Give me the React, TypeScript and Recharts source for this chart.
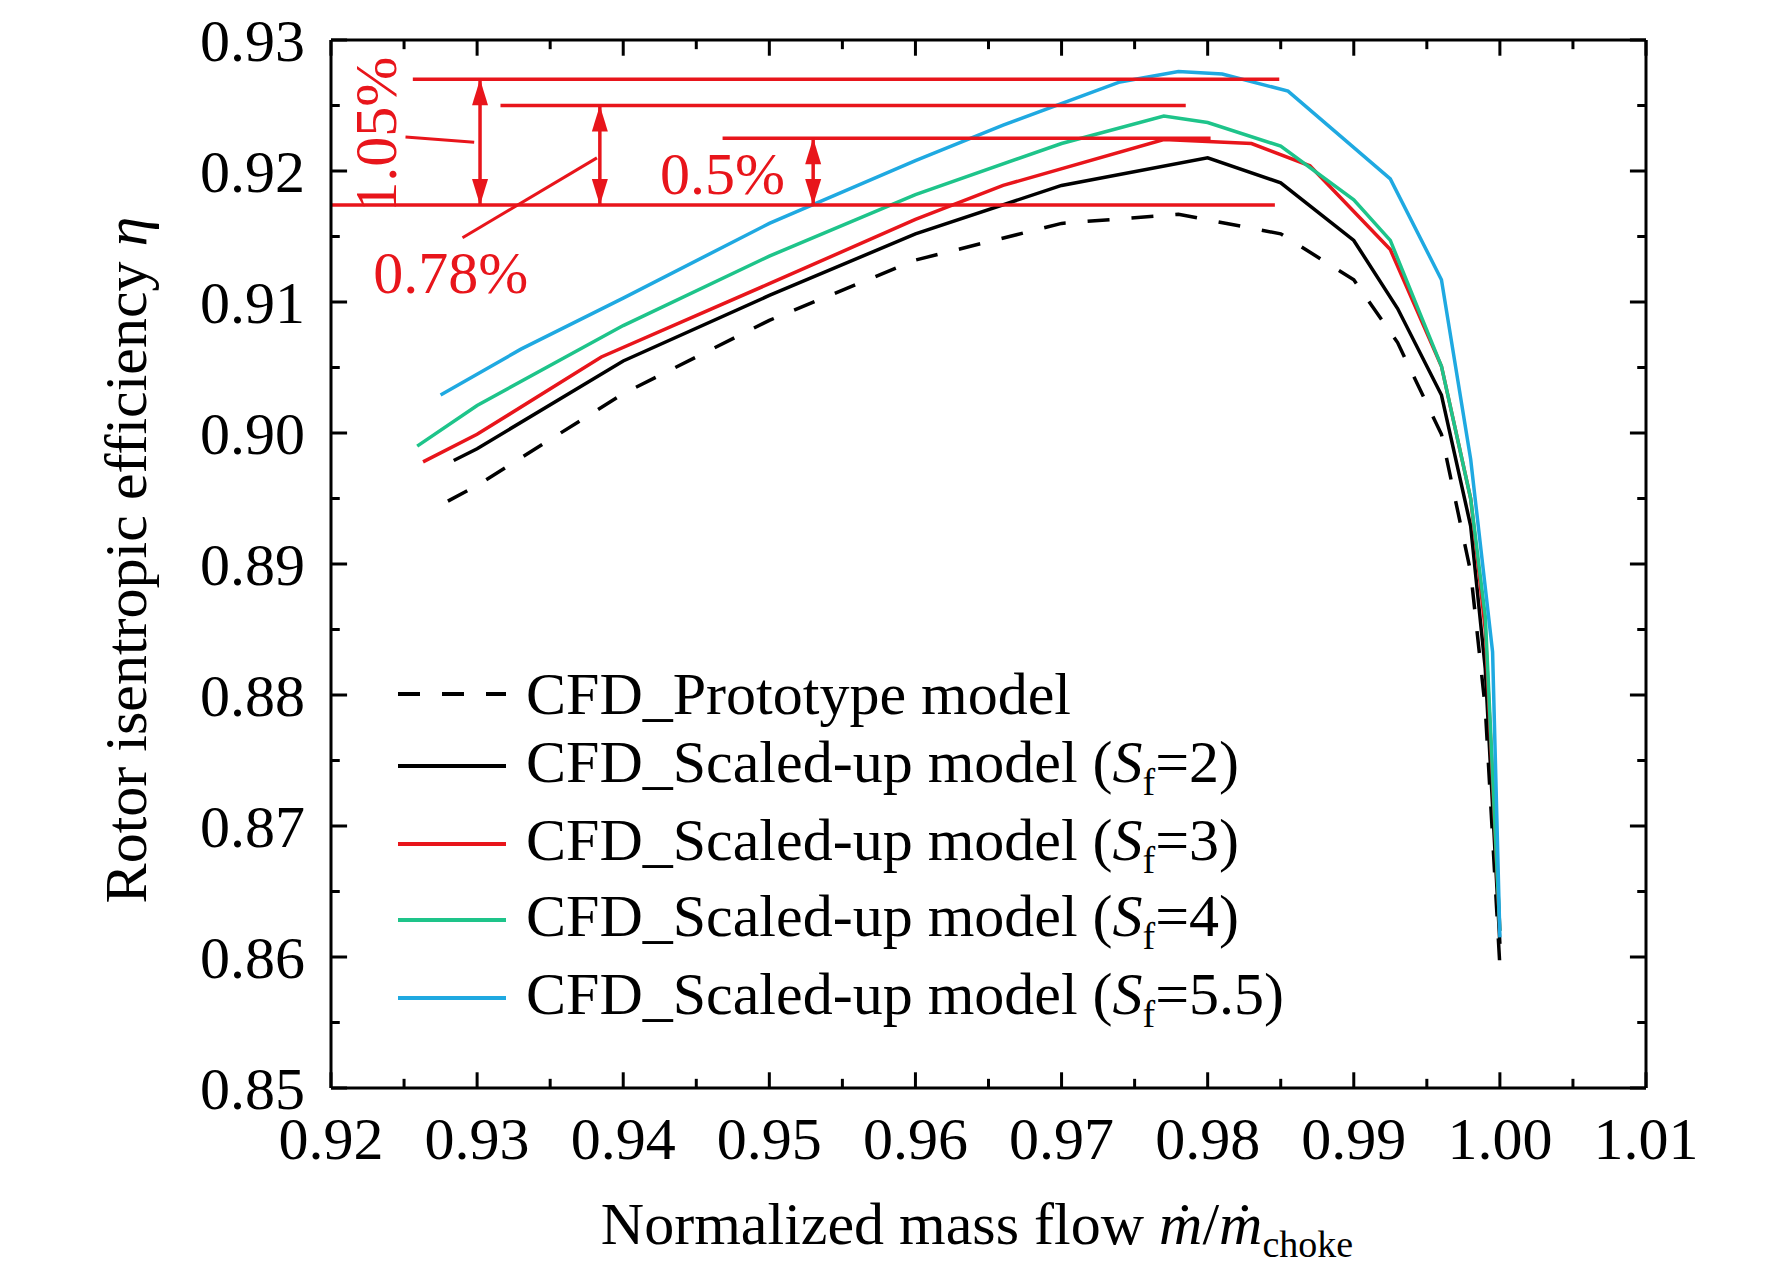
import React from 'react';
import { LineChart, Line, XAxis, YAxis, ReferenceLine, ReferenceDot } from 'recharts';

const protoX = [0.928, 0.93, 0.94, 0.95, 0.96, 0.97, 0.978, 0.985, 0.99, 0.993, 0.996, 0.998, 0.999, 1.0];
const protoY = [0.8948, 0.896, 0.903, 0.9086, 0.9132, 0.916, 0.9167, 0.9152, 0.9117, 0.9069, 0.8999, 0.8894, 0.879, 0.8593];
const sf2X = [0.9284, 0.93, 0.94, 0.95, 0.96, 0.97, 0.98, 0.985, 0.99, 0.993, 0.996, 0.998, 0.999, 1.0];
const sf2Y = [0.8979, 0.8988, 0.9055, 0.9105, 0.9152, 0.9189, 0.921, 0.9191, 0.9147, 0.9095, 0.9029, 0.8929, 0.882, 0.861];
const sf3X = [0.9263, 0.93, 0.9385, 0.95, 0.96, 0.966, 0.977, 0.983, 0.987, 0.9925, 0.996, 0.998, 0.999, 1.0];
const sf3Y = [0.8978, 0.8999, 0.9058, 0.9114, 0.9163, 0.9189, 0.9224, 0.9221, 0.9204, 0.914, 0.9051, 0.895, 0.885, 0.862];
const sf4X = [0.9259, 0.93, 0.94, 0.95, 0.96, 0.97, 0.977, 0.98, 0.985, 0.99, 0.9925, 0.996, 0.998, 0.999, 1.0];
const sf4Y = [0.899, 0.9021, 0.9082, 0.9135, 0.9182, 0.9221, 0.9242, 0.9237, 0.9219, 0.9178, 0.9147, 0.9051, 0.895, 0.886, 0.862];
const sf55X = [0.9275, 0.933, 0.94, 0.95, 0.96, 0.966, 0.974, 0.978, 0.981, 0.9855, 0.9925, 0.996, 0.998, 0.9995, 1.0];
const sf55Y = [0.9029, 0.9064, 0.9103, 0.916, 0.9208, 0.9235, 0.9268, 0.9276, 0.9274, 0.9261, 0.9194, 0.9117, 0.898, 0.8833, 0.8615];

const xMajor = [0.92, 0.93, 0.94, 0.95, 0.96, 0.97, 0.98, 0.99, 1.0, 1.01];
const xMinor = [0.925, 0.935, 0.945, 0.955, 0.965, 0.975, 0.985, 0.995, 1.005];
const yMajor = [0.85, 0.86, 0.87, 0.88, 0.89, 0.9, 0.91, 0.92, 0.93];
const yMinor = [0.855, 0.865, 0.875, 0.885, 0.895, 0.905, 0.915, 0.925];

// red guide lines: [y, x1, x2]
const guides = [
  [0.927, 0.9256, 0.9849],
  [0.925, 0.9316, 0.9785],
  [0.9225, 0.9468, 0.9802],
  [0.9174, 0.92, 0.9846],
];
// arrows: [x, yLow, yHigh]
const arrows = [
  [0.9302, 0.9174, 0.927],
  [0.9384, 0.9174, 0.925],
  [0.953, 0.9174, 0.9225],
];

const zip = (xs: number[], ys: number[]) => xs.map((x, i) => ({ x, y: ys[i] }));

const RED = '#e8151b';
const FONT = '"Liberation Serif", "Times New Roman", Times, serif';
const W = 1772;
const H = 1269;
const X0 = 0.92, X1 = 1.01, Y0 = 0.85, Y1 = 0.93;
// tick lengths in data units (major, minor)
const TX = 0.0011, TXm = 0.0006, TY = 0.0012, TYm = 0.0007;

const series = [
  { name: 'CFD_Prototype model', data: zip(protoX, protoY), color: '#000', dash: '22 22' },
  { name: 'CFD_Scaled-up model (', sf: '=2)', data: zip(sf2X, sf2Y), color: '#000' },
  { name: 'CFD_Scaled-up model (', sf: '=3)', data: zip(sf3X, sf3Y), color: RED },
  { name: 'CFD_Scaled-up model (', sf: '=4)', data: zip(sf4X, sf4Y), color: '#1ec48a' },
  { name: 'CFD_Scaled-up model (', sf: '=5.5)', data: zip(sf55X, sf55Y), color: '#1fa9e1' },
];

const fmt2 = (v: number) => v.toFixed(2);

const Arrow = (up: boolean) => (p: any) => {
  const { cx, cy } = p;
  const d = up ? `M${cx},${cy} L${cx - 8},${cy + 26} L${cx + 8},${cy + 26} Z` : `M${cx},${cy} L${cx - 8},${cy - 26} L${cx + 8},${cy - 26} Z`;
  return <path d={d} fill={RED} />;
};

const Txt = (text: string, rotate = false) => (p: any) => {
  const { cx, cy } = p;
  return (
    <text x={cx} y={cy} fill={RED} fontSize={60} fontFamily={FONT} textAnchor="middle" dominantBaseline="central"
      transform={rotate ? `rotate(-90 ${cx} ${cy})` : undefined}>
      {text}
    </text>
  );
};

const seg = (k: string, x1: number, y1: number, x2: number, y2: number, color = '#000', w = 3) => (
  <ReferenceLine key={k} xAxisId="a" yAxisId="a" segment={[{ x: x1, y: y1 }, { x: x2, y: y2 }]}
    stroke={color} strokeWidth={w} ifOverflow="visible" />
);

export default function App() {
  const tickStyle = { fill: '#000', fontSize: 60, fontFamily: FONT };
  return (
    <div style={{ position: 'absolute', left: 0, top: 0, width: W, height: H, background: '#fff', fontFamily: FONT }}>
      <LineChart width={W} height={H} margin={{ top: 40, right: 126, left: 0, bottom: 0 }}>
        <XAxis xAxisId="a" type="number" dataKey="x" domain={[X0, X1]} ticks={xMajor} tickFormatter={fmt2}
          height={181} tickLine={false} tickMargin={22} stroke="#000" strokeWidth={3} tick={tickStyle} allowDataOverflow />
        <YAxis yAxisId="a" type="number" domain={[Y0, Y1]} ticks={yMajor} tickFormatter={fmt2} width={331}
          tickLine={false} tickMargin={20} stroke="#000" strokeWidth={3} tick={tickStyle} allowDataOverflow />

        {series.map((s, i) => (
          <Line key={i} xAxisId="a" yAxisId="a" data={s.data} dataKey="y" type="linear" stroke={s.color}
            strokeWidth={3.5} strokeDasharray={s.dash} dot={false} isAnimationActive={false} />
        ))}

        {/* frame and inward ticks */}
        {seg('top', X0, Y1, X1, Y1)}
        {seg('right', X1, Y0, X1, Y1)}
        {xMajor.map((x) => seg('xb' + x, x, Y0, x, Y0 + TY))}
        {xMajor.map((x) => seg('xt' + x, x, Y1, x, Y1 - TY))}
        {xMinor.map((x) => seg('xbm' + x, x, Y0, x, Y0 + TYm))}
        {xMinor.map((x) => seg('xtm' + x, x, Y1, x, Y1 - TYm))}
        {yMajor.map((y) => seg('yl' + y, X0, y, X0 + TX, y))}
        {yMajor.map((y) => seg('yr' + y, X1, y, X1 - TX, y))}
        {yMinor.map((y) => seg('ylm' + y, X0, y, X0 + TXm, y))}
        {yMinor.map((y) => seg('yrm' + y, X1, y, X1 - TXm, y))}

        {guides.map((g, i) => seg('g' + i, g[1], g[0], g[2], g[0], RED, 3.5))}
        {arrows.map((a, i) => seg('a' + i, a[0], a[1], a[0], a[2], RED, 3.5))}
        {arrows.map((a, i) => (
          <ReferenceDot key={'au' + i} xAxisId="a" yAxisId="a" x={a[0]} y={a[2]} r={0} shape={Arrow(true)} />
        ))}
        {arrows.map((a, i) => (
          <ReferenceDot key={'ad' + i} xAxisId="a" yAxisId="a" x={a[0]} y={a[1]} r={0} shape={Arrow(false)} />
        ))}
        {seg('l1', 0.9251, 0.9226, 0.9298, 0.9222, RED, 3)}
        {seg('l2', 0.929, 0.9149, 0.9382, 0.921, RED, 3)}
        <ReferenceDot xAxisId="a" yAxisId="a" x={0.9231} y={0.9228} r={0} shape={Txt('1.05%', true)} />
        <ReferenceDot xAxisId="a" yAxisId="a" x={0.9468} y={0.9198} r={0} shape={Txt('0.5%')} />
        <ReferenceDot xAxisId="a" yAxisId="a" x={0.9282} y={0.9122} r={0} shape={Txt('0.78%')} />
      </LineChart>

      {/* legend */}
      {series.map((s, i) => (
        <div key={'l' + i} style={{ position: 'absolute', left: 398, top: [694, 766, 844, 920, 998][i] - 36, height: 72, display: 'flex', alignItems: 'center' }}>
          <svg width={110} height={10}>
            <line x1={0} y1={5} x2={108} y2={5} stroke={s.color} strokeWidth={4} strokeDasharray={s.dash ? '22 22' : undefined} />
          </svg>
          <span style={{ fontSize: 60, marginLeft: 18, whiteSpace: 'nowrap' }}>
            {s.name}
            {s.sf && (<><i>S</i><sub style={{ fontSize: 38 }}>f</sub>{s.sf}</>)}
          </span>
        </div>
      ))}

      {/* axis titles */}
      <div style={{ position: 'absolute', left: 126, top: 560, transform: 'translate(-50%,-50%) rotate(-90deg)', fontSize: 60, whiteSpace: 'nowrap' }}>
        Rotor isentropic efficiency <i>η</i>
      </div>
      <div style={{ position: 'absolute', left: 977, top: 1228, transform: 'translate(-50%,-50%)', fontSize: 60, whiteSpace: 'nowrap' }}>
        Normalized mass flow <i>ṁ</i>/<i>ṁ</i><sub style={{ fontSize: 38 }}>choke</sub>
      </div>
    </div>
  );
}
